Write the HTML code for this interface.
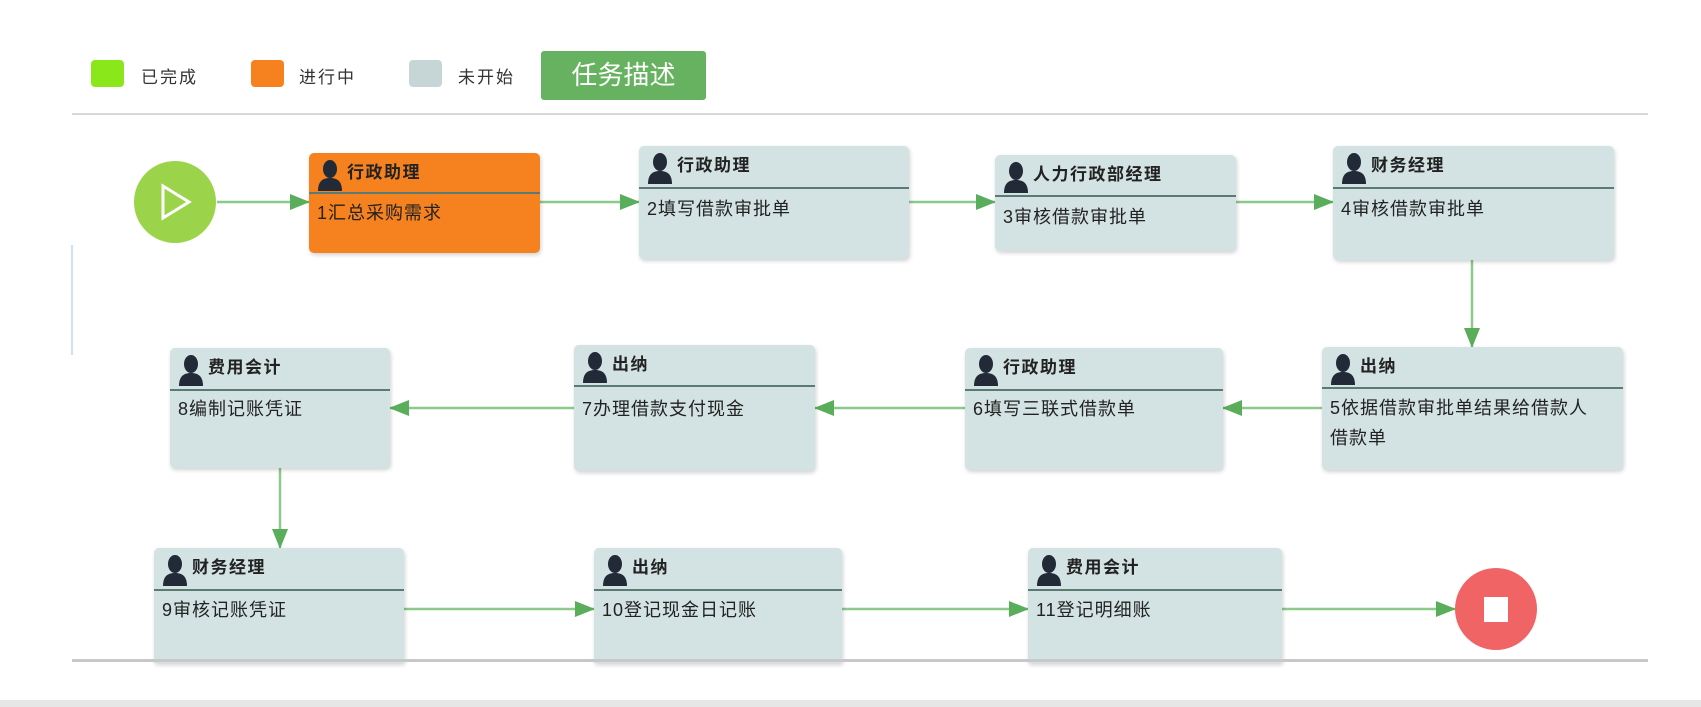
<!DOCTYPE html>
<html><head><meta charset="utf-8"><style>
*{margin:0;padding:0;box-sizing:border-box}
body{width:1701px;height:707px;background:#fff;position:relative;overflow:hidden;font-family:"Liberation Sans","Noto Sans CJK SC",sans-serif;color:#222}
.a{position:absolute}
.sq{position:absolute;width:33px;height:27px;border-radius:4px}
.lg{position:absolute;font-size:17px;letter-spacing:2px;color:#333;top:63px}
.n{position:absolute;background:#d3e2e2;border-radius:5px;box-shadow:1px 2px 4px rgba(0,0,0,.18);overflow:hidden}
.n .h{position:absolute;left:0;right:0;top:0;border-bottom:2px solid #5b7a72;font-weight:bold;font-size:17px;letter-spacing:1.5px;padding-left:38px}
.n .b{position:absolute;left:8px;right:6px;font-size:18px;letter-spacing:1px;line-height:30px}
.n svg{position:absolute;left:8px}
</style></head><body>
<div class="sq" style="left:91px;top:60px;background:#8ae81a"></div><div class="lg" style="left:141px">已完成</div>
<div class="sq" style="left:251px;top:60px;background:#f5821f"></div><div class="lg" style="left:299px">进行中</div>
<div class="sq" style="left:409px;top:60px;background:#c6d6d6"></div><div class="lg" style="left:458px">未开始</div>
<div class="a" style="left:541px;top:51px;width:165px;height:49px;background:#67b261;border-radius:3px;color:#fff;font-size:26px;text-align:center;line-height:49px">任务描述</div>
<div class="a" style="left:72px;top:113px;width:1576px;height:2px;background:#d8d8d8"></div>
<div class="a" style="left:0;top:700px;width:1701px;height:7px;background:#e6e6e6"></div>
<div class="a" style="left:71px;top:245px;width:2px;height:110px;background:#cfe0fb"></div>

<svg class="a" style="left:0;top:0" width="1701" height="707">
<defs><marker id="ar" markerWidth="20" markerHeight="16" refX="19" refY="8" orient="auto" markerUnits="userSpaceOnUse"><path d="M0,0 L20,8 L0,16z" fill="#5aad5a"/></marker></defs>
<g stroke="#8dc98a" stroke-width="2.5" fill="none" marker-end="url(#ar)">
<line x1="217" y1="202" x2="309" y2="202"/>
<line x1="540" y1="202" x2="639" y2="202"/>
<line x1="909" y1="202" x2="995" y2="202"/>
<line x1="1236" y1="202" x2="1333" y2="202"/>
<line x1="1472" y1="260" x2="1472" y2="347"/>
<line x1="1322" y1="408" x2="1223" y2="408"/>
<line x1="965" y1="408" x2="815" y2="408"/>
<line x1="574" y1="408" x2="390" y2="408"/>
<line x1="280" y1="468" x2="280" y2="548"/>
<line x1="404" y1="609" x2="594" y2="609"/>
<line x1="842" y1="609" x2="1028" y2="609"/>
<line x1="1282" y1="609" x2="1455" y2="609"/>
</g>
<circle cx="175" cy="202" r="41" fill="#9bd44a"/>
<path d="M163,186 L189,202 L163,218z" fill="none" stroke="#fff" stroke-width="3"/>
<circle cx="1496" cy="609" r="41" fill="#f06466"/>
<rect x="1484" y="597" width="24" height="25" fill="#fff"/>
</svg>

<div class="n" style="left:309px;top:153px;width:231px;height:100px;background:#f5821f"><svg style="top:6px" width="26" height="32" viewBox="0 0 26 32"><ellipse cx="13" cy="10" rx="7" ry="9" fill="#222a38"/><path d="M1,32 C1,22 6,19 13,19 C20,19 25,22 25,32z" fill="#222a38"/></svg><div class="h" style="height:41px;line-height:40px">行政助理</div><div class="b" style="top:45px">1汇总采购需求</div></div>

<div class="n" style="left:639px;top:146px;width:270px;height:113px"><svg style="top:6px" width="26" height="32" viewBox="0 0 26 32"><ellipse cx="13" cy="10" rx="7" ry="9" fill="#222a38"/><path d="M1,32 C1,22 6,19 13,19 C20,19 25,22 25,32z" fill="#222a38"/></svg><div class="h" style="height:43px;line-height:40px">行政助理</div><div class="b" style="top:48px">2填写借款审批单</div></div>

<div class="n" style="left:995px;top:155px;width:241px;height:96px"><svg style="top:6px" width="26" height="32" viewBox="0 0 26 32"><ellipse cx="13" cy="10" rx="7" ry="9" fill="#222a38"/><path d="M1,32 C1,22 6,19 13,19 C20,19 25,22 25,32z" fill="#222a38"/></svg><div class="h" style="height:42px;line-height:40px">人力行政部经理</div><div class="b" style="top:47px">3审核借款审批单</div></div>

<div class="n" style="left:1333px;top:146px;width:281px;height:114px"><svg style="top:6px" width="26" height="32" viewBox="0 0 26 32"><ellipse cx="13" cy="10" rx="7" ry="9" fill="#222a38"/><path d="M1,32 C1,22 6,19 13,19 C20,19 25,22 25,32z" fill="#222a38"/></svg><div class="h" style="height:43px;line-height:40px">财务经理</div><div class="b" style="top:48px">4审核借款审批单</div></div>

<div class="n" style="left:1322px;top:347px;width:301px;height:123px"><svg style="top:6px" width="26" height="32" viewBox="0 0 26 32"><ellipse cx="13" cy="10" rx="7" ry="9" fill="#222a38"/><path d="M1,32 C1,22 6,19 13,19 C20,19 25,22 25,32z" fill="#222a38"/></svg><div class="h" style="height:42px;line-height:40px">出纳</div><div class="b" style="top:46px;right:30px">5依据借款审批单结果给借款人借款单</div></div>

<div class="n" style="left:965px;top:348px;width:258px;height:122px"><svg style="top:6px" width="26" height="32" viewBox="0 0 26 32"><ellipse cx="13" cy="10" rx="7" ry="9" fill="#222a38"/><path d="M1,32 C1,22 6,19 13,19 C20,19 25,22 25,32z" fill="#222a38"/></svg><div class="h" style="height:43px;line-height:40px">行政助理</div><div class="b" style="top:46px">6填写三联式借款单</div></div>

<div class="n" style="left:574px;top:345px;width:241px;height:126px"><svg style="top:6px" width="26" height="32" viewBox="0 0 26 32"><ellipse cx="13" cy="10" rx="7" ry="9" fill="#222a38"/><path d="M1,32 C1,22 6,19 13,19 C20,19 25,22 25,32z" fill="#222a38"/></svg><div class="h" style="height:42px;line-height:40px">出纳</div><div class="b" style="top:49px">7办理借款支付现金</div></div>

<div class="n" style="left:170px;top:348px;width:220px;height:120px"><svg style="top:6px" width="26" height="32" viewBox="0 0 26 32"><ellipse cx="13" cy="10" rx="7" ry="9" fill="#222a38"/><path d="M1,32 C1,22 6,19 13,19 C20,19 25,22 25,32z" fill="#222a38"/></svg><div class="h" style="height:43px;line-height:40px">费用会计</div><div class="b" style="top:46px">8编制记账凭证</div></div>

<div class="n" style="left:154px;top:548px;width:250px;height:115px;border-radius:5px 5px 0 0"><svg style="top:6px" width="26" height="32" viewBox="0 0 26 32"><ellipse cx="13" cy="10" rx="7" ry="9" fill="#222a38"/><path d="M1,32 C1,22 6,19 13,19 C20,19 25,22 25,32z" fill="#222a38"/></svg><div class="h" style="height:43px;line-height:40px">财务经理</div><div class="b" style="top:47px">9审核记账凭证</div></div>

<div class="n" style="left:594px;top:548px;width:248px;height:115px;border-radius:5px 5px 0 0"><svg style="top:6px" width="26" height="32" viewBox="0 0 26 32"><ellipse cx="13" cy="10" rx="7" ry="9" fill="#222a38"/><path d="M1,32 C1,22 6,19 13,19 C20,19 25,22 25,32z" fill="#222a38"/></svg><div class="h" style="height:43px;line-height:40px">出纳</div><div class="b" style="top:47px">10登记现金日记账</div></div>

<div class="n" style="left:1028px;top:548px;width:254px;height:115px;border-radius:5px 5px 0 0"><svg style="top:6px" width="26" height="32" viewBox="0 0 26 32"><ellipse cx="13" cy="10" rx="7" ry="9" fill="#222a38"/><path d="M1,32 C1,22 6,19 13,19 C20,19 25,22 25,32z" fill="#222a38"/></svg><div class="h" style="height:43px;line-height:40px">费用会计</div><div class="b" style="top:47px">11登记明细账</div></div>

<div class="a" style="left:72px;top:659px;width:1576px;height:3px;background:#c8c8c8"></div>
</body></html>
